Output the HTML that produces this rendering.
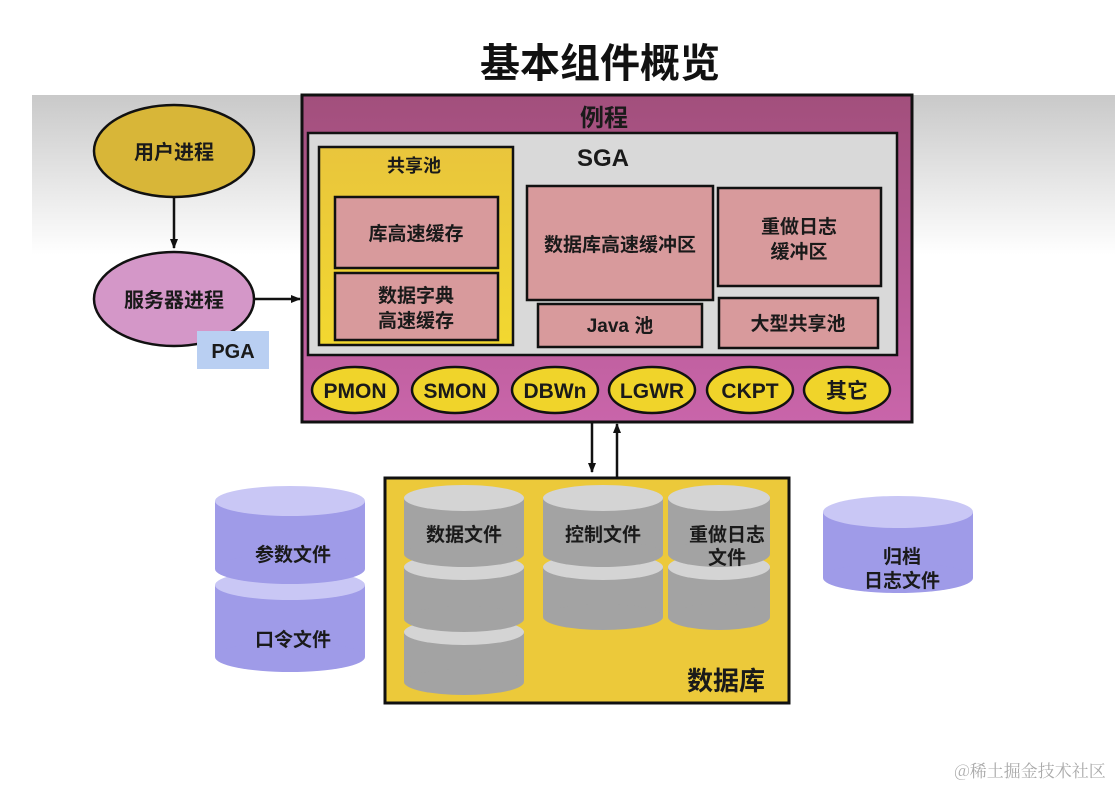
<!DOCTYPE html>
<html><head><meta charset="utf-8"><style>
html,body{margin:0;padding:0;background:#fff;}
svg{display:block;}
text{font-family:"Liberation Sans","Noto Sans CJK SC",sans-serif;font-weight:bold;fill:#1a1a1a;text-anchor:middle;}
</style></head><body>
<svg width="1115" height="788" viewBox="0 0 1115 788" xmlns="http://www.w3.org/2000/svg">
<defs>
<linearGradient id="bg" x1="0" y1="0" x2="0" y2="1">
<stop offset="0" stop-color="#c9c9c9"/><stop offset="1" stop-color="#ffffff"/></linearGradient>
<linearGradient id="mag" x1="0" y1="0" x2="0" y2="1">
<stop offset="0" stop-color="#a24f7c"/><stop offset="1" stop-color="#c965aa"/></linearGradient>
<linearGradient id="yel" x1="0" y1="0" x2="0" y2="1">
<stop offset="0" stop-color="#e9c53c"/><stop offset="1" stop-color="#f2d830"/></linearGradient>
<marker id="ah" markerWidth="10" markerHeight="10" refX="9" refY="5" orient="auto" markerUnits="userSpaceOnUse">
<path d="M0,1 L10,5 L0,9 Z" fill="#111"/></marker>
</defs>
<rect x="32" y="95" width="1083" height="160" fill="url(#bg)"/>
<text x="600" y="77" font-size="40" style="fill:#111">基本组件概览</text>

<!-- left processes -->
<ellipse cx="174" cy="151" rx="80" ry="46" fill="#d8b638" stroke="#111" stroke-width="2.5"/>
<text x="174" y="159" font-size="20">用户进程</text>
<line x1="174" y1="197" x2="174" y2="248" stroke="#111" stroke-width="2.5" marker-end="url(#ah)"/>
<ellipse cx="174" cy="299" rx="80" ry="47" fill="#d497c8" stroke="#111" stroke-width="2.5"/>
<text x="174" y="307" font-size="20">服务器进程</text>
<line x1="254" y1="299" x2="300" y2="299" stroke="#111" stroke-width="2.5" marker-end="url(#ah)"/>
<rect x="197" y="331" width="72" height="38" fill="#b9cff2"/>
<text x="233" y="358" font-size="20">PGA</text>

<!-- routine box -->
<rect x="302" y="95" width="610" height="327" fill="url(#mag)" stroke="#111" stroke-width="3"/>
<text x="604" y="126" font-size="24">例程</text>
<rect x="308" y="133" width="589" height="222" fill="#d9d9d9" stroke="#111" stroke-width="2.5"/>
<text x="603" y="166" font-size="24">SGA</text>
<rect x="319" y="147" width="194" height="198" fill="url(#yel)" stroke="#111" stroke-width="2.5"/>
<text x="414" y="172" font-size="18">共享池</text>
<g fill="#d89a9c" stroke="#111" stroke-width="2.5">
<rect x="335" y="197" width="163" height="71"/>
<rect x="335" y="273" width="163" height="67"/>
<rect x="527" y="186" width="186" height="114"/>
<rect x="718" y="188" width="163" height="98"/>
<rect x="538" y="304" width="164" height="43"/>
<rect x="719" y="298" width="159" height="50"/>
</g>
<text x="416" y="240" font-size="19">库高速缓存</text>
<text x="416" y="302" font-size="19">数据字典</text>
<text x="416" y="327" font-size="19">高速缓存</text>
<text x="620" y="251" font-size="19">数据库高速缓冲区</text>
<text x="799" y="233" font-size="19">重做日志</text>
<text x="799" y="258" font-size="19">缓冲区</text>
<text x="620" y="332" font-size="19">Java 池</text>
<text x="798" y="330" font-size="19">大型共享池</text>
<g fill="#f0d42a" stroke="#111" stroke-width="2.5">
<ellipse cx="355" cy="390" rx="43" ry="23"/>
<ellipse cx="455" cy="390" rx="43" ry="23"/>
<ellipse cx="555" cy="390" rx="43" ry="23"/>
<ellipse cx="652" cy="390" rx="43" ry="23"/>
<ellipse cx="750" cy="390" rx="43" ry="23"/>
<ellipse cx="847" cy="390" rx="43" ry="23"/>
</g>
<g font-size="21">
<text x="355" y="398">PMON</text><text x="455" y="398">SMON</text><text x="555" y="398">DBWn</text>
<text x="652" y="398">LGWR</text><text x="750" y="398">CKPT</text><text x="847" y="398">其它</text>
</g>

<!-- arrows -->
<line x1="592" y1="423" x2="592" y2="472" stroke="#111" stroke-width="2.5" marker-end="url(#ah)"/>
<line x1="617" y1="477" x2="617" y2="424" stroke="#111" stroke-width="2.5" marker-end="url(#ah)"/>

<!-- database -->
<rect x="385" y="478" width="404" height="225" fill="#ecc93a" stroke="#111" stroke-width="3"/>
<text x="726" y="690" font-size="26">数据库</text>

<g id="cyl">
<!-- data file -->
<g>
<rect x="404" y="632" width="120" height="50" fill="#a3a3a3"/><ellipse cx="464" cy="682" rx="60" ry="13" fill="#a3a3a3"/><ellipse cx="464" cy="632" rx="60" ry="13" fill="#d4d4d4"/>
<rect x="404" y="567" width="120" height="52" fill="#a3a3a3"/><ellipse cx="464" cy="619" rx="60" ry="13" fill="#a3a3a3"/><ellipse cx="464" cy="567" rx="60" ry="13" fill="#d4d4d4"/>
<rect x="404" y="498" width="120" height="56" fill="#a3a3a3"/><ellipse cx="464" cy="554" rx="60" ry="13" fill="#a3a3a3"/><ellipse cx="464" cy="498" rx="60" ry="13" fill="#d4d4d4"/>
</g>
<g>
<rect x="543" y="567" width="120" height="50" fill="#a3a3a3"/><ellipse cx="603" cy="617" rx="60" ry="13" fill="#a3a3a3"/><ellipse cx="603" cy="567" rx="60" ry="13" fill="#d4d4d4"/>
<rect x="543" y="498" width="120" height="56" fill="#a3a3a3"/><ellipse cx="603" cy="554" rx="60" ry="13" fill="#a3a3a3"/><ellipse cx="603" cy="498" rx="60" ry="13" fill="#d4d4d4"/>
</g>
<g>
<rect x="668" y="567" width="102" height="50" fill="#a3a3a3"/><ellipse cx="719" cy="617" rx="51" ry="13" fill="#a3a3a3"/><ellipse cx="719" cy="567" rx="51" ry="13" fill="#d4d4d4"/>
<rect x="668" y="498" width="102" height="56" fill="#a3a3a3"/><ellipse cx="719" cy="554" rx="51" ry="13" fill="#a3a3a3"/><ellipse cx="719" cy="498" rx="51" ry="13" fill="#d4d4d4"/>
</g>
</g>
<text x="464" y="541" font-size="19">数据文件</text>
<text x="603" y="541" font-size="19">控制文件</text>
<text x="727" y="541" font-size="19">重做日志</text>
<text x="727" y="564" font-size="19">文件</text>

<!-- param / password -->
<rect x="215" y="585" width="150" height="72" fill="#9f9be8"/><ellipse cx="290" cy="657" rx="75" ry="15" fill="#9f9be8"/><ellipse cx="290" cy="585" rx="75" ry="15" fill="#c9c7f5"/>
<rect x="215" y="501" width="150" height="68" fill="#9f9be8"/><ellipse cx="290" cy="569" rx="75" ry="15" fill="#9f9be8"/><ellipse cx="290" cy="501" rx="75" ry="15" fill="#c9c7f5"/>
<text x="293" y="561" font-size="19">参数文件</text>
<text x="293" y="646" font-size="19">口令文件</text>

<!-- archive -->
<rect x="823" y="512" width="150" height="66" fill="#9f9be8"/><ellipse cx="898" cy="578" rx="75" ry="15" fill="#9f9be8"/><ellipse cx="898" cy="512" rx="75" ry="16" fill="#c9c7f5"/>
<text x="902" y="563" font-size="19">归档</text>
<text x="902" y="587" font-size="19">日志文件</text>

<text x="1030" y="777" font-size="17" style="font-family:'Noto Serif CJK SC',serif;font-weight:normal;fill:#aaa">@稀土掘金技术社区</text>
</svg>
</body></html>
